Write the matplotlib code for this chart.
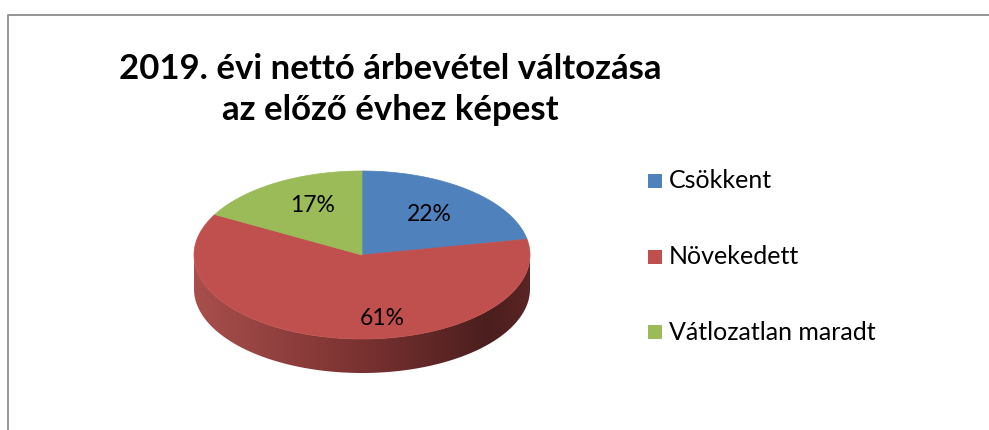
import numpy as np
import matplotlib.pyplot as plt
from matplotlib.patches import Polygon, Rectangle
from matplotlib.colors import LinearSegmentedColormap

# adatok
kategoriak = ['Csökkent', 'Növekedett', 'Vátlozatlan maradt']
ertekek = [22, 61, 17]
szinek = ['#4f81bd', '#c0504d', '#9bbb59']

plt.rcParams['font.family'] = ['Lato', 'DejaVu Sans']

fig = plt.figure(figsize=(9.89, 4.30), dpi=100)
ax = fig.add_axes([0, 0, 1, 1])

# keret
ax.plot([8, 8, 989], [430, 15, 15], color='#8c8c8c', lw=1.3)

# kor kozeppont, sugarak, vastagsag (pixelben)
cx, cy, a, b, h = 362, 255, 168, 84, 34

def ellipszis(t):
    t = np.radians(t)
    return cx + a*np.cos(t), cy - b*np.sin(t)

# oldalfal (csak az elulso fele latszik)
t = np.linspace(180, 360, 200)
xs, ys = ellipszis(t)
oldal = np.vstack([np.column_stack([xs, ys]), np.column_stack([xs[::-1], ys[::-1] + h])])
poly = Polygon(oldal, closed=True, facecolor='none', edgecolor='none')
ax.add_patch(poly)
cmap = LinearSegmentedColormap.from_list('oldal', [(0, '#a84f4c'), (0.5, '#7a3231'),
                                                   (0.88, '#4b1e1e'), (1, '#5a2524')])
grad = np.linspace(0, 1, 256).reshape(1, -1)
im = ax.imshow(grad, extent=[cx - a, cx + a, cy + b + h, cy], cmap=cmap, aspect='auto')
im.set_clip_path(poly)

# teteje
ossz = sum(ertekek)
start = 90
kozepek = []
for v, c in zip(ertekek, szinek):
    end = start - v/ossz*360
    t = np.linspace(start, end, 120)
    xs, ys = ellipszis(t)
    pts = [(cx, cy)] + list(zip(xs, ys))
    ax.add_patch(Polygon(pts, closed=True, facecolor=c, edgecolor=c, lw=0.5))
    kozepek.append((start + end)/2)
    start = end

# szazalek cimkek
igazitas = [(0, 0), (37, 11), (4, -4)]
for v, m, (dx, dy) in zip(ertekek, kozepek, igazitas):
    r = 0.63
    x = cx + a*r*np.cos(np.radians(m)) + dx
    y = cy - b*r*np.sin(np.radians(m)) + dy
    ax.text(x, y, f'{v}%', ha='center', va='center', fontsize=16.5, color='black')

# cim
ax.text(390, 79, '2019. évi nettó árbevétel változása', ha='center', va='baseline',
        fontsize=25, fontweight='bold')
ax.text(390, 120, 'az előző évhez képest', ha='center', va='baseline',
        fontsize=25, fontweight='bold')

# jelmagyarazat
for i, (k, c) in enumerate(zip(kategoriak, szinek)):
    y = 181 + i*75.5
    ax.add_patch(Rectangle((648, y - 7), 14, 14, facecolor=c, edgecolor='none'))
    ax.text(669, y, k, ha='left', va='center', fontsize=18)

ax.set_xlim(0, 989)
ax.set_ylim(430, 0)
ax.axis('off')

fig.savefig('out.png', dpi=100)
